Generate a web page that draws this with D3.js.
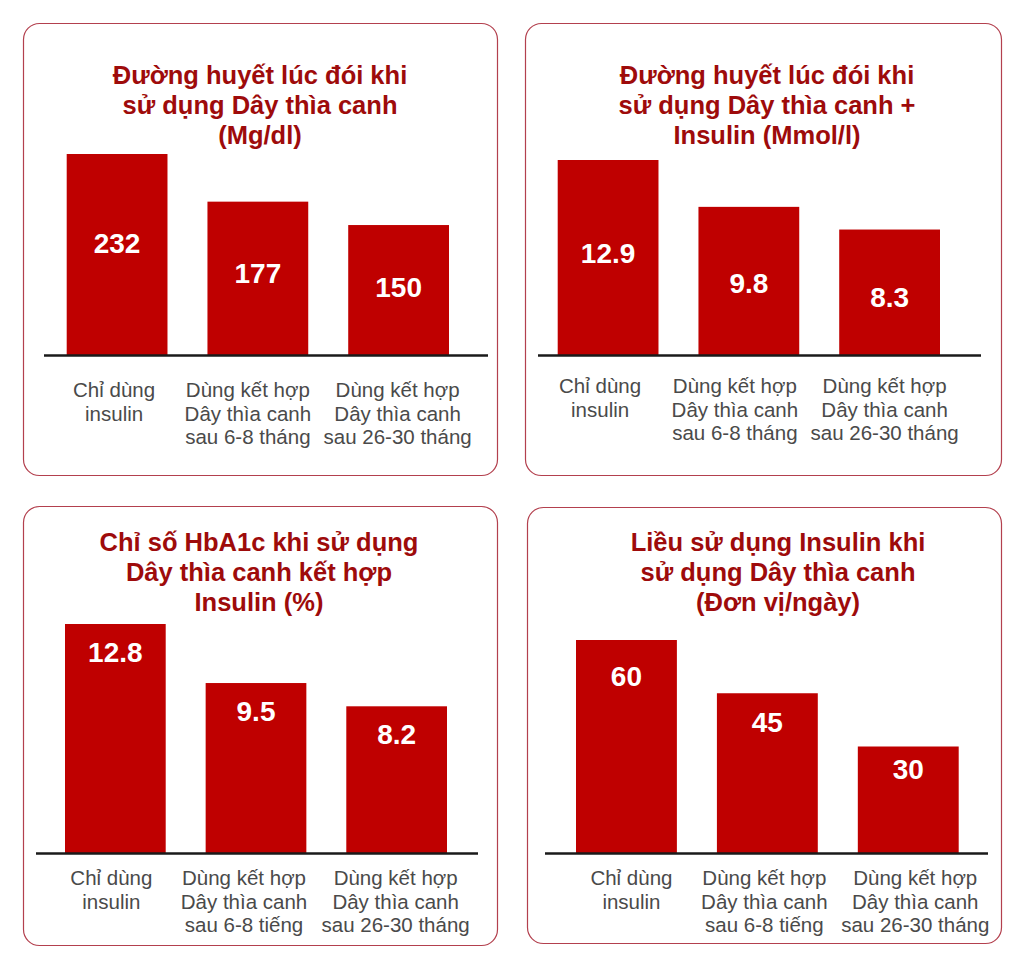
<!DOCTYPE html>
<html>
<head>
<meta charset="utf-8">
<script src="https://cdn.jsdelivr.net/npm/d3@7"></script>
<style>
  html, body { margin: 0; padding: 0; background: #ffffff; }
  svg { display: block; }
</style>
</head>
<body>
<svg id="chart" width="1017" height="970"></svg>
<script>
// ---------- DATA ----------
const categoriesMonths = [
  ["Chỉ dùng", "insulin"],
  ["Dùng kết hợp", "Dây thìa canh", "sau 6-8 tháng"],
  ["Dùng kết hợp", "Dây thìa canh", "sau 26-30 tháng"]
];
const categoriesHours = [
  ["Chỉ dùng", "insulin"],
  ["Dùng kết hợp", "Dây thìa canh", "sau 6-8 tiếng"],
  ["Dùng kết hợp", "Dây thìa canh", "sau 26-30 tháng"]
];
const title1 = ["Đường huyết lúc đói khi", "sử dụng Dây thìa canh", "(Mg/dl)"];
const title2 = ["Đường huyết lúc đói khi", "sử dụng Dây thìa canh +", "Insulin (Mmol/l)"];
const title3 = ["Chỉ số HbA1c khi sử dụng", "Dây thìa canh kết hợp", "Insulin (%)"];
const title4 = ["Liều sử dụng Insulin khi", "sử dụng Dây thìa canh", "(Đơn vị/ngày)"];
const values1 = [232, 177, 150];
const values2 = [12.9, 9.8, 8.3];
const values3 = [12.8, 9.5, 8.2];
const values4 = [60, 45, 30];

// ---------- LAYOUT / STYLE ----------
const panels = [
  { title: title1, cats: categoriesMonths, values: values1,
    box: [23, 23, 474, 452], titleX: 260, titleY: 84,
    bars: [66.7, 449], top: 154, base: 355, line: [44, 488], catY: 397,
    catDx: [-3, -10, -1], label: { a: 12, b: 0.384 } },
  { title: title2, cats: categoriesMonths, values: values2,
    box: [525, 23, 476, 452], titleX: 767, titleY: 84,
    bars: [557.7, 940], top: 160, base: 355, line: [538, 981], catY: 393,
    catDx: [-8, -14, -5], label: { a: 21.6, b: 0.366 } },
  { title: title3, cats: categoriesHours, values: values3,
    box: [23, 506, 474, 439], titleX: 259, titleY: 551,
    bars: [65, 447], top: 624, base: 853, line: [36, 478], catY: 885,
    catDx: [-4, -12, -1], label: { a: 28, b: 0 } },
  { title: title4, cats: categoriesHours, values: values4,
    box: [527, 507, 474, 436], titleX: 778, titleY: 551,
    bars: [576, 958.7], top: 640, base: 853, line: [545, 988], catY: 885,
    catDx: [5, -3, 7], label: { a: 9, b: 0.126 } }
];

const FONT = "'Liberation Sans', Arial, Helvetica, sans-serif";
const BAR = "#bf0000";
const TITLE = "#9e0b0b";
const BORDER = "#b3404e";
const CAT = "#4a4a4a";

const svg = d3.select("#chart");

panels.forEach(p => {
  const g = svg.append("g");

  // rounded frame
  g.append("rect")
    .attr("x", p.box[0] + 0.5).attr("y", p.box[1] + 0.5)
    .attr("width", p.box[2]).attr("height", p.box[3])
    .attr("rx", 16).attr("ry", 16)
    .attr("fill", "#fff").attr("stroke", BORDER).attr("stroke-width", 1.2);

  // title
  const t = g.append("text")
    .attr("text-anchor", "middle")
    .attr("font-family", FONT).attr("font-weight", "bold")
    .attr("font-size", 25.5).attr("fill", TITLE);
  p.title.forEach((line, i) => {
    t.append("tspan").attr("x", p.titleX).attr("y", p.titleY + i * 30).text(line);
  });

  const idx = p.values.map((d, i) => i);
  const x = d3.scaleBand().domain(idx).range(p.bars).paddingInner(0.284).paddingOuter(0);
  const y = d3.scaleLinear().domain([0, d3.max(p.values)]).range([p.base, p.top]);

  // bars
  g.selectAll("rect.bar").data(p.values).join("rect")
    .attr("class", "bar")
    .attr("x", (d, i) => x(i))
    .attr("width", x.bandwidth())
    .attr("y", d => y(d))
    .attr("height", d => p.base - y(d))
    .attr("fill", BAR);

  // value labels
  g.selectAll("text.val").data(p.values).join("text")
    .attr("class", "val")
    .attr("x", (d, i) => x(i) + x.bandwidth() / 2)
    .attr("y", d => {
      const h = p.base - y(d);
      return y(d) + p.label.a + p.label.b * h + 10;
    })
    .attr("text-anchor", "middle")
    .attr("font-family", FONT).attr("font-weight", "bold")
    .attr("font-size", 28).attr("fill", "#fff")
    .text(d => String(d));

  // baseline
  g.append("line")
    .attr("x1", p.line[0]).attr("x2", p.line[1])
    .attr("y1", p.base + 0.5).attr("y2", p.base + 0.5)
    .attr("stroke", "#1a1a1a").attr("stroke-width", 2.5);

  // category labels via axis
  const axis = d3.axisBottom(x).tickSize(0).tickFormat(() => "");
  const ag = g.append("g").attr("transform", `translate(0,${p.base})`).call(axis);
  ag.select(".domain").remove();
  ag.selectAll(".tick").each(function (i) {
    const tick = d3.select(this);
    tick.selectAll("text").remove();
    const tx = tick.append("text")
      .attr("text-anchor", "middle")
      .attr("font-family", FONT).attr("font-size", 20.5).attr("fill", CAT);
    p.cats[i].forEach((line, k) => {
      tx.append("tspan").attr("x", p.catDx[i]).attr("y", p.catY - p.base + k * 23.5).text(line);
    });
  });
});
</script>
</body>
</html>
